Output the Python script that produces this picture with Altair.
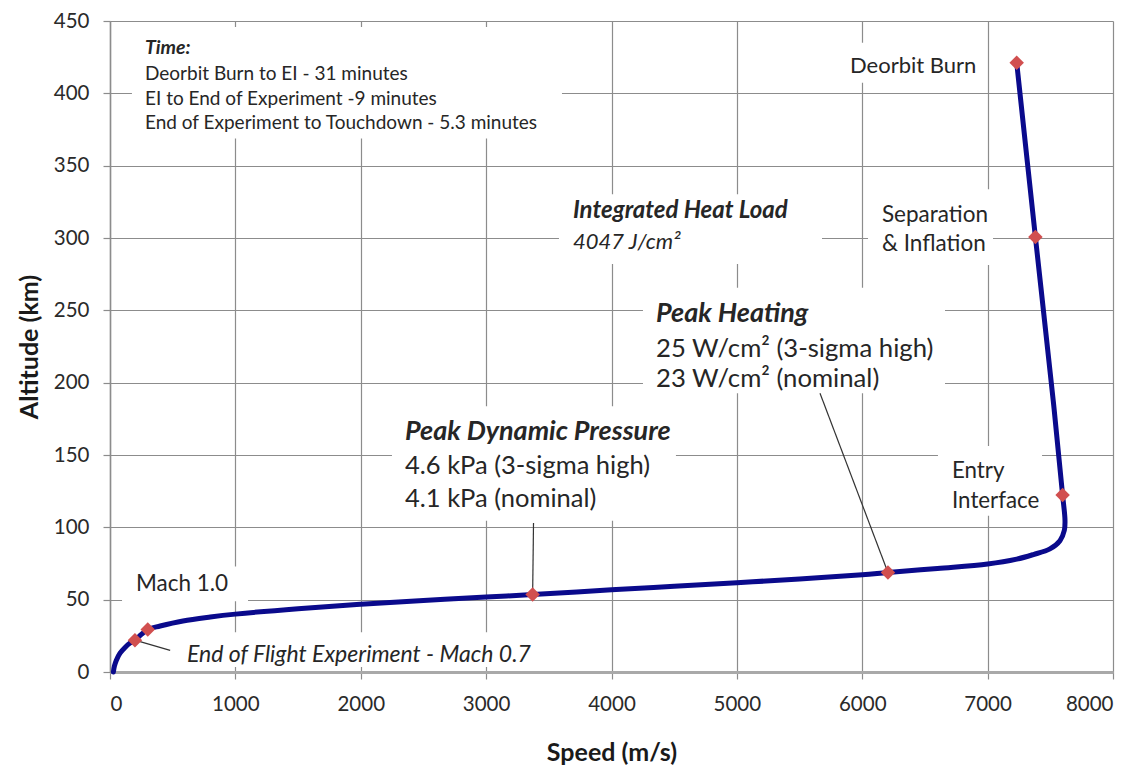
import altair as alt
import pandas as pd

# ---- Trajectory (speed m/s, altitude km) ----
speed = [27, 35, 50, 80, 120, 160, 199, 250, 301, 400, 582, 800, 1000, 1500, 2000,
         2500, 3000, 3371, 4000, 4500, 5000, 5500, 6000, 6205, 6600, 7000, 7232,
         7365, 7497, 7577, 7612, 7617, 7598, 7524, 7381, 7232]
altitude = [0, 4, 8, 13, 17, 20, 22, 26, 29.4, 31.8, 35.3, 38, 40, 43.8, 46.8,
            49.5, 51.8, 53.5, 56.8, 59.2, 61.7, 64.3, 67.2, 68.8, 71.6, 74.6, 78.0,
            81.2, 85.1, 90.8, 98, 105, 122.3, 187, 300.7, 421.1]

# ---- Events (markers) ----
event_names = ["Deorbit Burn", "Separation & Inflation", "Entry Interface", "Peak Heating",
               "Peak Dynamic Pressure", "Mach 1.0", "End of Flight Experiment"]
event_speed = [7232, 7381, 7598, 6205, 3371, 301, 199]
event_alt = [421.1, 300.7, 122.3, 68.8, 53.5, 29.4, 22]

# ---- Annotation texts ----
ann_text = ["Time:", "Deorbit Burn to EI - 31 minutes", "EI to End of Experiment -9 minutes",
            "End of Experiment to Touchdown - 5.3 minutes",
            "Deorbit Burn", "Separation", "& Inflation",
            "Integrated Heat Load", "4047 J/cm²",
            "Peak Heating", "25 W/cm² (3-sigma high)", "23 W/cm² (nominal)",
            "Peak Dynamic Pressure", "4.6 kPa (3-sigma high)", "4.1 kPa (nominal)",
            "Entry", "Interface", "Mach 1.0", "End of Flight Experiment - Mach 0.7"]
ann_x = [279, 279, 279, 279, 5902, 6157, 6157, 3693, 3693, 4355, 4355, 4355,
         2353, 2353, 2353, 6716, 6716, 207, 614]
ann_y = [431.4, 413.5, 396.3, 379.8, 419, 315.8, 295.9, 318.6, 297.2, 247.7, 223.6, 202.3,
         165.8, 142.4, 119.7, 139, 118.3, 60.6, 12]
ann_size = [19.5, 19, 19, 19, 22, 22.5, 22.5, 24, 22, 27, 25.7, 25.7, 27, 25.5, 25.5,
            22.3, 22.3, 22.5, 23]
ann_style = ["bi", "r", "r", "r", "r", "r", "r", "bi", "i", "bi", "r", "r",
             "bi", "r", "r", "r", "r", "r", "i"]

# ---- White label boxes (data units) ----
box_x1 = [175, 5822, 6046, 3581, 4251, 2249, 6604, 96, 582]
box_x2 = [3605, 6963, 7043, 5679, 6660, 4514, 7434, 1101, 3430]
box_y1 = [368.8, 407.3, 281.4, 282.1, 192.7, 104.6, 108.0, 48.9, 3.4]
box_y2 = [445.9, 434.9, 333.7, 330.3, 265.6, 183.7, 156.2, 72.9, 27.5]

# ---- Leader lines ----
lead_x1 = [3378, 5663, 199]
lead_y1 = [103, 192.7, 22]
lead_x2 = [3371, 6205, 480]
lead_y2 = [53.5, 68.8, 15]

FONT = "Lato"
GRID = "#8c8c8c"

traj = pd.DataFrame({"v": speed, "alt": altitude, "i": range(len(speed))})
events = pd.DataFrame({"name": event_names, "v": event_speed, "alt": event_alt})
ann = pd.DataFrame({"t": ann_text, "v": ann_x, "alt": ann_y, "fs": ann_size, "st": ann_style})
boxes = pd.DataFrame({"v": box_x1, "v2": box_x2, "alt": box_y1, "alt2": box_y2})
leads = pd.DataFrame({"v": lead_x1, "alt": lead_y1, "v2": lead_x2, "alt2": lead_y2})

xscale = alt.Scale(domain=[0, 8000], nice=False, zero=False)
yscale = alt.Scale(domain=[0, 450], nice=False, zero=False)

xaxis = alt.Axis(values=list(range(0, 8001, 1000)), title="Speed (m/s)", grid=True,
                 gridColor=GRID, gridWidth=1.2, domainColor="#a9a9a9", domainWidth=3,
                 tickColor=GRID, tickWidth=1.2, tickSize=7, labelFont=FONT, labelFontSize=20.5,
                 labelColor="#2a2a2a", labelPadding=15, format="d",
                 titleFont=FONT, titleFontSize=25, titleFontWeight="bold",
                 titleColor="#1a1a1a", titlePadding=26)
yaxis = alt.Axis(values=list(range(0, 451, 50)), title="Altitude (km)", grid=True,
                 gridColor=GRID, gridWidth=1.2, domainColor=GRID, domainWidth=1.5,
                 tickColor=GRID, tickWidth=1.2, tickSize=7, labelFont=FONT, labelFontSize=20.5,
                 labelColor="#2a2a2a", labelPadding=14,
                 titleFont=FONT, titleFontSize=25, titleFontWeight="bold",
                 titleColor="#1a1a1a", titlePadding=11)

X = lambda: alt.X("v:Q", scale=xscale, axis=xaxis)
Y = lambda: alt.Y("alt:Q", scale=yscale, axis=yaxis)

rects = alt.Chart(boxes).mark_rect(color="white").encode(
    x=X(), x2="v2:Q", y=Y(), y2="alt2:Q")

rules = alt.Chart(leads).mark_rule(color="#333333", strokeWidth=1.2).encode(
    x=X(), x2="v2:Q", y=Y(), y2="alt2:Q")

line = alt.Chart(traj).mark_line(color="#0a0a8c", strokeWidth=5, strokeCap="round",
                                 strokeJoin="round", interpolate="catmull-rom").encode(
    x=X(), y=Y(), order="i:Q")

pts = alt.Chart(events).mark_point(shape="diamond", filled=True, color="#d14f4f",
                                   size=210, opacity=1).encode(x=X(), y=Y())

def text_layer(style, weight, fstyle):
    return alt.Chart(ann[ann.st == style]).mark_text(
        align="left", baseline="middle", font=FONT, color="#262626",
        fontWeight=weight, fontStyle=fstyle).encode(
        x=X(), y=Y(), text="t:N", size=alt.Size("fs:Q", scale=None, legend=None))

texts = [text_layer("r", "normal", "normal"), text_layer("i", "normal", "italic"),
         text_layer("bi", "bold", "italic")]

chart = alt.layer(rects, rules, line, pts, *texts).properties(
    width=1003, height=651,
    autosize=alt.AutoSizeParams(type="none"),
    padding={"left": 102, "top": 13, "right": 26, "bottom": 98},
).configure_view(stroke=None)

chart.save("out.html", embed_options={"renderer": "svg", "actions": False})
